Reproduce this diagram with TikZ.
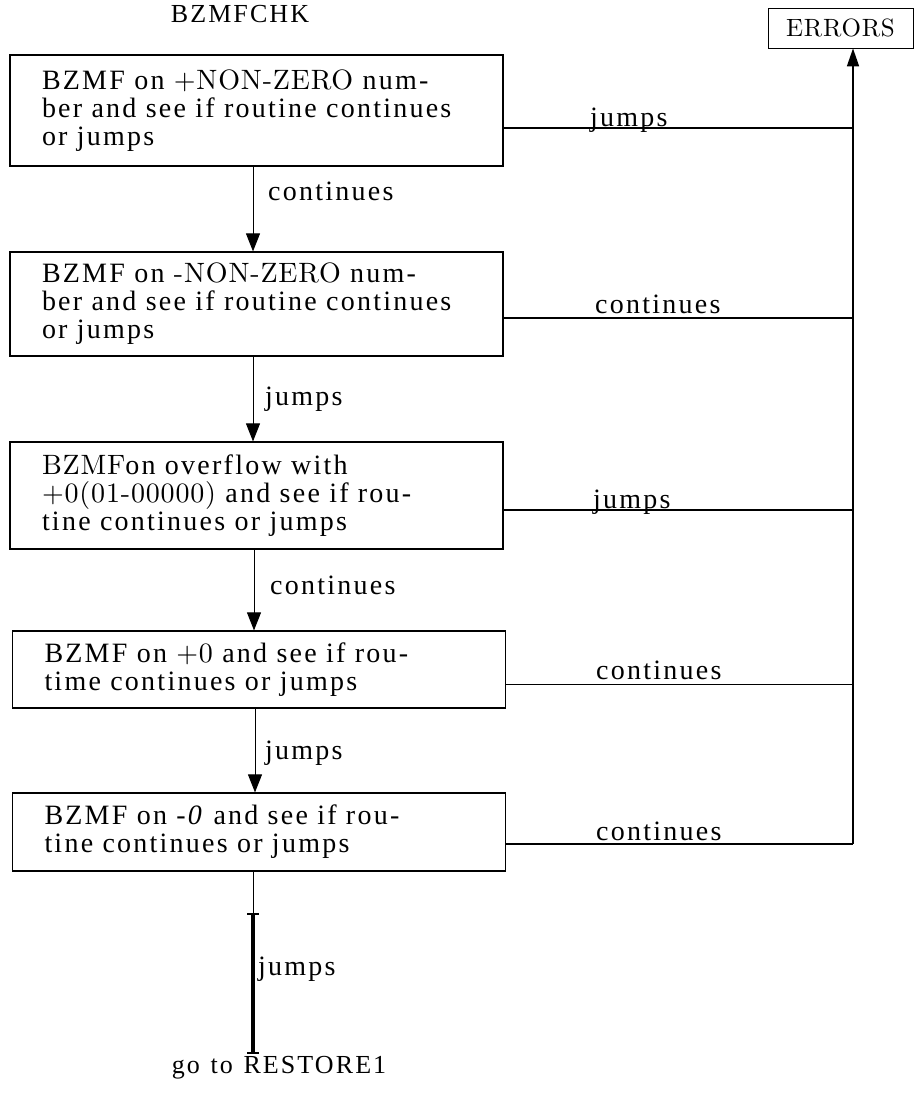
\documentclass[tikz,border=0pt]{standalone}
\usepackage{fontspec}
\setmainfont{Liberation Serif}[LetterSpace=8,WordSpace=1.25]
\newfontfamily\oldfont{lmroman10-regular.otf}[LetterSpace=3]
\usetikzlibrary{arrows.meta}

\begin{document}
\begin{tikzpicture}[x=1pt,y=-1pt,
    box/.style={draw,line width=1.2pt,inner xsep=32pt,inner ysep=0pt,text width=429pt,
        align=left,font=\fontsize{28}{28}\selectfont},
    flow/.style={line width=0.9pt,-{Triangle[length=18pt,width=14pt]}},
    link/.style={line width=1.3pt},
    lbl/.style={anchor=base west,inner sep=0pt,font=\fontsize{28}{28}\selectfont}]
    \useasboundingbox (0,0) rectangle (914,1093);
    \node[anchor=base,font=\fontsize{26}{28}\selectfont] (title) at (240,22) {BZMFCHK};
    \node[draw,line width=0.8pt,minimum width=145pt,minimum height=40pt,
          font=\fontsize{25}{26}\oldfont] (err) at (840.5,28) {ERRORS};
    % the five checks
    \node[box,minimum height=111pt] (b1) at (256.5,110.5)
        {BZMF on {\oldfont +NON-ZERO} num-\\ber and see if routine continues\\or jumps};
    \node[box,minimum height=104pt] (b2) at (256.5,304)
        {BZMF on {\oldfont -NON-ZERO} num-\\ber and see if routine continues\\or jumps};
    \node[box,minimum height=107pt] (b3) at (256.5,495.5)
        {{\oldfont BZMF}on overflow with\\{\oldfont +0(01-00000)} and see if rou-\\tine continues or jumps};
    \node[box,minimum height=77pt] (b4) at (259,669.5)
        {BZMF on {\oldfont +0} and see if rou-\\time continues or jumps};
    \node[box,minimum height=78pt] (b5) at (259,832)
        {BZMF on \textit{-0} and see if rou-\\tine continues or jumps};
    % downward flow
    \draw[flow] ([xshift=-3.5pt]b1.south) -- ([xshift=-3.5pt]b2.north);
    \node[lbl] (c1) at (268,200) {continues};
    \draw[flow] ([xshift=-3.5pt]b2.south) -- ([xshift=-3.5pt]b3.north);
    \node[lbl] (j1) at (265,405) {jumps};
    \draw[flow] ([xshift=-2.5pt]b3.south) -- ([xshift=-5pt]b4.north);
    \node[lbl] (c2) at (270,594) {continues};
    \draw[flow] ([xshift=-4pt]b4.south) -- ([xshift=-4pt]b5.north);
    \node[lbl] (j2) at (265,759) {jumps};
    % exit to RESTORE1
    \node[anchor=base,inner sep=2pt,font=\fontsize{26}{28}\selectfont] (rst) at (279,1073) {go to RESTORE1};
    \coordinate (m) at (253,913);
    \draw[line width=0.7pt] ([xshift=-6pt]b5.south) -- (m);
    \draw[line width=4.5pt,{Bar[width=12pt,line width=2pt]}-{Bar[width=12pt,line width=2pt]}]
        (m) -- (m |- rst.north);
    \node[lbl] (j3) at (258,975) {jumps};
    % branches to ERRORS
    \coordinate (e1) at (853,128);
    \coordinate (e2) at (853,318);
    \coordinate (e3) at (853,510);
    \coordinate (e4) at (853,684);
    \coordinate (e5) at (853,844);
    \draw[link] (b1.east |- e1) -- (e1);
    \draw[link] (b2.east |- e2) -- (e2);
    \draw[link] (b3.east |- e3) -- (e3);
    \draw[line width=0.8pt] (b4.east |- e4) -- (e4);
    \draw[link] (b5.east |- e5) -- (e5);
    \draw[line width=1.7pt,-{Triangle[length=18pt,width=12pt]}] (e5) -- (e5 |- err.south);
    \node[lbl] (l1) at (590,126) {jumps};
    \node[lbl] (l2) at (595,313) {continues};
    \node[lbl] (l3) at (593,508) {jumps};
    \node[lbl] (l4) at (596,679) {continues};
    \node[lbl] (l5) at (596,840) {continues};
\end{tikzpicture}
\end{document}
